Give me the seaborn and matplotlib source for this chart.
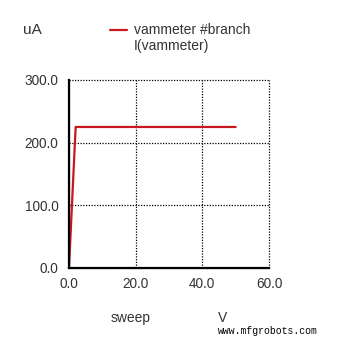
import matplotlib
matplotlib.use("Agg")
import matplotlib.pyplot as plt
import seaborn as sns
import pandas as pd

sweep = [0.0, 2.0, 50.0]
current = [0.0, 225.0, 225.0]
series_name = "vammeter #branch\nI(vammeter)"
xticks = [0.0, 20.0, 40.0, 60.0]
yticks = [0.0, 100.0, 200.0, 300.0]

sns.set_style("white")
plt.rcParams['font.family'] = ['Liberation Sans', 'DejaVu Sans']

df = pd.DataFrame({"sweep": sweep, "current": current})

fig = plt.figure(figsize=(3.39, 3.40), dpi=100)
ax = fig.add_axes([0.2035, 0.2118, 0.59, 0.553])
sns.lineplot(data=df, x="sweep", y="current", ax=ax, color="#c8171e", linewidth=1.6, legend=False)

ax.set_xlim(0, 60)
ax.set_ylim(0, 300)
ax.set_xticks(xticks)
ax.set_yticks(yticks)
ax.set_xticklabels([f"{v:.1f}" for v in xticks])
ax.set_yticklabels([f"{v:.1f}" for v in yticks])
ax.tick_params(axis="both", length=0, labelsize=9.8, labelcolor="#333333")
ax.tick_params(axis="y", pad=7.5)
ax.tick_params(axis="x", pad=6.5)
ax.grid(True, linestyle=(0, (1, 1.2)), color="black", linewidth=0.9)
for gl in ax.get_xgridlines() + ax.get_ygridlines():
    gl.set_clip_on(False)
for s in ["top", "right"]:
    ax.spines[s].set_visible(False)
for s in ["left", "bottom"]:
    ax.spines[s].set_color("black")
    ax.spines[s].set_linewidth(1.6)
ax.set_xlabel("")
ax.set_ylabel("")

fig.text(23/339, 1 - 30/340, "uA", fontsize=11, color="#333333", va="center", ha="left")
fig.add_artist(plt.Line2D([110/339, 127/339], [1 - 30/340, 1 - 30/340], color="#c8171e", linewidth=1.6))
fig.text(134/339, 1 - 38/340, series_name, fontsize=10, color="#333333", va="center", ha="left", linespacing=1.1)
fig.text(131/339, 1 - 318/340, "sweep", fontsize=10, color="#333333", va="center", ha="center")
fig.text(223/339, 1 - 318/340, "V", fontsize=10, color="#333333", va="center", ha="center")
fig.text(268/339, 1 - 331/340, "www.mfgrobots.com", fontsize=7, color="black", va="center", ha="center", family="Liberation Mono")

fig.savefig("out.png", dpi=100)
